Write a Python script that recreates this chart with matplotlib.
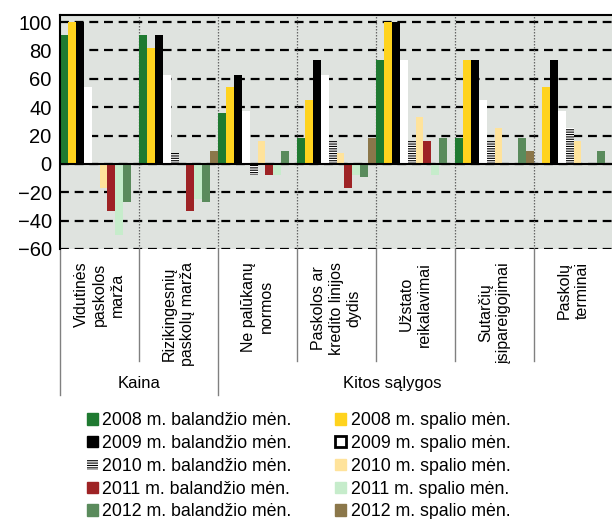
import matplotlib
matplotlib.use("Agg")
import matplotlib.pyplot as plt
from matplotlib.patches import Patch
import matplotlib.transforms as mtransforms
import numpy as np

plt.rcParams["font.family"] = ["Liberation Sans", "DejaVu Sans"]
plt.rcParams["hatch.linewidth"] = 0.8

categories = [
    "Vidutinės\npaskolos\nmarža",
    "Rizikingesnių\npaskolų marža",
    "Ne palūkanų\nnormos",
    "Paskolos ar\nkredito linijos\ndydis",
    "Užstato\nreikalavimai",
    "Sutarčių\nįsipareigojimai",
    "Paskolų\nterminai",
]

bal_2008 = [91, 91, 36, 18, 73, 18, 0]
spa_2008 = [100, 82, 54, 45, 100, 73, 54]
bal_2009 = [100, 91, 63, 73, 100, 73, 73]
spa_2009 = [54, 63, 37, 63, 73, 45, 37]
bal_2010 = [0, 8, -8, 16, 16, 16, 25]
spa_2010 = [-17, 0, 16, 8, 33, 25, 16]
bal_2011 = [-33, -33, -8, -17, 16, 0, 0]
spa_2011 = [-50, -25, -8, -8, -8, 0, 0]
bal_2012 = [-27, -27, 9, -9, 18, 18, 9]
spa_2012 = [0, 9, 0, 18, 0, 9, 0]

series = [
    ("2008 m. balandžio mėn.", bal_2008, dict(color="#1f7a31")),
    ("2008 m. spalio mėn.", spa_2008, dict(color="#ffd31e")),
    ("2009 m. balandžio mėn.", bal_2009, dict(color="black")),
    ("2009 m. spalio mėn.", spa_2009, dict(color="white")),
    ("2010 m. balandžio mėn.", bal_2010,
     dict(facecolor="white", edgecolor="black", hatch="-------", linewidth=0)),
    ("2010 m. spalio mėn.", spa_2010, dict(color="#ffe39b")),
    ("2011 m. balandžio mėn.", bal_2011, dict(color="#9e2325")),
    ("2011 m. spalio mėn.", spa_2011, dict(color="#c6eccb")),
    ("2012 m. balandžio mėn.", bal_2012, dict(color="#5a8b5c")),
    ("2012 m. spalio mėn.", spa_2012, dict(color="#8b774a")),
]

fig = plt.figure(figsize=(6.12, 5.19), dpi=100)
ax = fig.add_axes([60 / 612, 1 - 249 / 519, 553 / 612, 234 / 519])
ax.set_facecolor("#dfe3df")

n = len(series)
width = 1.0 / n
x = np.arange(len(categories))
for j, (label, vals, style) in enumerate(series):
    ax.bar(x + width * (j + 0.5), vals, width=width, label=label, zorder=2, **style)

ax.set_xlim(0, len(categories))
ax.set_ylim(-60, 105)
ax.set_yticks(range(-60, 101, 20))
ax.set_xticks([])
ax.set_axisbelow(True)
ax.yaxis.grid(True, color="black", linestyle=(0, (4, 2.6)), linewidth=1.6)
ax.axhline(0, color="black", linewidth=1.5, zorder=3)
for xs in range(1, len(categories)):
    ax.axvline(xs, color="#666666", linestyle=(0, (1.2, 1.2)), linewidth=0.9, zorder=1)

ax.tick_params(axis="y", length=0, pad=6, labelsize=14.5)
ax.spines["bottom"].set_visible(False)
ax.spines["right"].set_visible(False)
ax.spines["top"].set_linewidth(1.5)
ax.spines["left"].set_linewidth(1.5)

# category table under the axis
trans = mtransforms.blended_transform_factory(ax.transData, ax.transAxes)
for xs in range(len(categories) + 1):
    bottom = -0.625 if xs in (0, 2) else -0.48
    ax.plot([xs, xs], [0, bottom], transform=trans, color="#808080",
            linewidth=1, clip_on=False)

for i, cat in enumerate(categories):
    ax.text(i + 0.5, -0.055, cat, transform=trans, rotation=90, ha="center",
            va="top", multialignment="center", fontsize=11.5, linespacing=1.22)

ax.text(1.0, -0.575, "Kaina", transform=trans, ha="center", va="center", fontsize=12)
ax.text(4.2, -0.575, "Kitos sąlygos", transform=trans, ha="center", va="center",
        fontsize=12)

handles = []
labels = []
for label, vals, style in series:
    st = dict(style)
    if st.get("color") == "white":
        st = dict(facecolor="white", edgecolor="black", linewidth=2)
    handles.append(Patch(**st))
    labels.append(label)
order = [0, 2, 4, 6, 8, 1, 3, 5, 7, 9]
fig.legend([handles[k] for k in order], [labels[k] for k in order], ncol=2,
           loc="upper left", bbox_to_anchor=(87 / 612, 1 - 412 / 519),
           frameon=False, fontsize=12.75, borderpad=0, borderaxespad=0,
           handlelength=0.62, handleheight=0.62, handletextpad=0.25,
           columnspacing=2.45, labelspacing=0.33)

fig.savefig("out.png", dpi=100)
